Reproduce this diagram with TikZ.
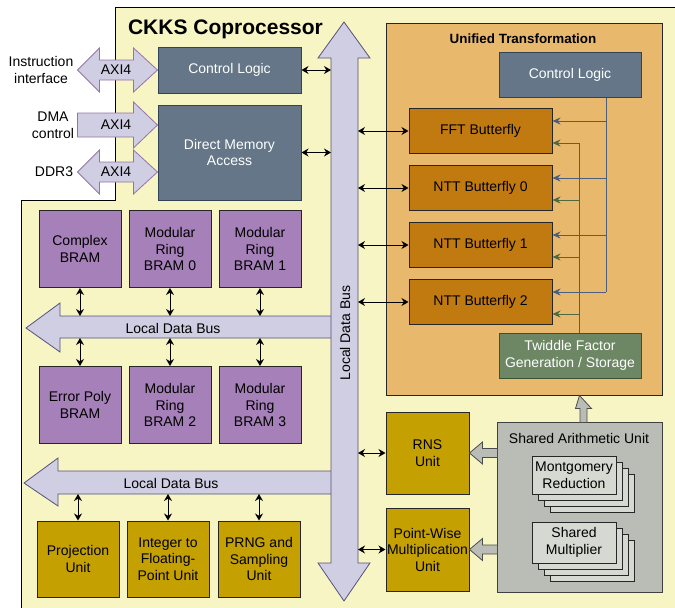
\documentclass[tikz,border=0pt]{standalone}
\usepackage{fontspec}
\setmainfont{Liberation Sans}
\usetikzlibrary{arrows.meta,positioning,calc}
\definecolor{yellowbg}{HTML}{F7F5C4}
\definecolor{busfill}{HTML}{D0CEE2}
\definecolor{busline}{HTML}{56517E}
\definecolor{axiline}{HTML}{9673A6}
\definecolor{slatefill}{HTML}{647687}
\definecolor{slateline}{HTML}{314354}
\definecolor{bramfill}{HTML}{A680B8}
\definecolor{goldfill}{HTML}{C4A000}
\definecolor{bflyfill}{HTML}{C07A10}
\definecolor{unifill}{HTML}{E8B86C}
\definecolor{twfill}{HTML}{6D8764}
\definecolor{twline}{HTML}{3A5431}
\definecolor{saufill}{HTML}{BABDB6}
\definecolor{stkfill}{HTML}{D6D9D2}
\definecolor{ctlline}{HTML}{4C5F7A}
\definecolor{twarrline}{HTML}{506840}
\tikzset{%
   box/.style={
      draw=black!85,
      line width=1pt,
      inner sep=0pt,
      align=center,
      font=\fontsize{14}{16.5}\selectfont
   },
   lbl/.style={
      inner sep=0pt,
      align=center,
      font=\fontsize{14}{16.5}\selectfont
   },
   slate/.style={
      box, draw=slateline, fill=slatefill, text=white
   },
   bram/.style={
      box, fill=bramfill, minimum width=82, minimum height=77
   },
   gold/.style={
      box, fill=goldfill, minimum width=82, minimum height=76
   },
   bfly/.style={
      box, fill=bflyfill, minimum width=143, minimum height=45
   },
   stk/.style={
      box, fill=stkfill, minimum width=84
   },
   frame/.style={
      draw=black, line width=1pt, fill=yellowbg
   },
   bus/.style={
      draw=busline, fill=busfill, line width=0.8pt
   },
   axi/.style={
      draw=axiline, fill=busfill, line width=0.8pt
   },
   blk/.style={
      draw=black!70, fill=saufill, line width=0.8pt
   },
   bi/.style={
      {Stealth[length=7pt,width=8pt]}-{Stealth[length=7pt,width=8pt]},
      line width=1pt
   },
   ctlarr/.style={
      -{Stealth[length=8pt,width=7pt]}, draw=ctlline, line width=1pt
   },
   twarr/.style={
      -{Stealth[length=8pt,width=7pt]}, draw=twarrline, line width=1pt
   },
}

\begin{document}
\begin{tikzpicture}[x=1pt, y=-1pt]
   \useasboundingbox (0,0) rectangle (675,608);
   % coprocessor frame
   \draw[frame] (115,7) -- (690,7) -- (690,620) -- (21,620) -- (21,200) -- (115,200) -- cycle;
   \node[anchor=base, inner sep=0pt, font=\bfseries\fontsize{21}{24}\selectfont] (title) at (225.5,34) {CKKS Coprocessor};

   % data buses
   \draw[bus] (26,328) -- (60,303) -- (60,316) -- (332,316) -- (332,338) -- (60,338) -- (60,352) -- cycle;
   \node[lbl] (lbus1) at (173,328) {Local Data Bus};
   \draw[bus] (24,483) -- (58,458) -- (58,471) -- (332,471) -- (332,494) -- (58,494) -- (58,506) -- cycle;
   \node[lbl] (lbus2) at (171,483) {Local Data Bus};
   \draw[bus] (344,22) -- (370,58) -- (358,58) -- (358,563) -- (370,563) -- (344,601) -- (318,563) -- (331,563) -- (331,58) -- (318,58) -- cycle;
   \node[lbl, rotate=90] (vbus) at (345,333) {Local Data Bus};
   \coordinate (bw) at (331,0);
   \coordinate (be) at (358,0);
   \coordinate (ubt) at (0,316);
   \coordinate (ubb) at (0,338);
   \coordinate (lbb) at (0,494);

   % host side
   \node[slate, minimum width=143, minimum height=46] (ctl) at (229.5,70) {Control Logic};
   \node[slate, minimum width=143, minimum height=95] (dma) at (229.5,152.5) {Direct Memory\\Access};
   \draw[axi] (ctl.west) -- ++(-24,-22) -- ++(0,12) -- ++(-34,0) -- ++(0,-12) -- ++(-22,22)
      -- ++(22,22) -- ++(0,-12) -- ++(34,0) -- ++(0,12) -- cycle;
   \draw[axi] ([yshift=27.5pt]dma.west) -- ++(-24,-23) -- ++(0,11) -- ++(-56,0) -- ++(0,24)
      -- ++(56,0) -- ++(0,11) -- cycle;
   \draw[axi] ([yshift=-19.5pt]dma.west) -- ++(-24,-22) -- ++(0,12) -- ++(-34,0) -- ++(0,-12) -- ++(-22,22)
      -- ++(22,22) -- ++(0,-12) -- ++(34,0) -- ++(0,12) -- cycle;
   \node[lbl] (axi1) at (116,70) {AXI4};
   \node[lbl] (axi2) at (116,125) {AXI4};
   \node[lbl] (axi3) at (116,172) {AXI4};
   \node[lbl] (ii) at (41,70) {Instruction\\interface};
   \node[lbl] (dmac) at (53,125) {DMA\\control};
   \node[lbl] (ddr) at (54,172) {DDR3};
   \draw[bi] (ctl.east) -- (ctl.east -| bw);
   \draw[bi] (dma.east) -- (dma.east -| bw);

   % memories
   \node[bram] (cbram) at (80,249) {Complex\\BRAM};
   \node[bram, right=7pt of cbram] (mr0) {Modular\\Ring\\BRAM 0};
   \node[bram, right=7pt of mr0] (mr1) {Modular\\Ring\\BRAM 1};
   \node[bram, below=78pt of cbram] (epbram) {Error Poly\\BRAM};
   \node[bram, right=7pt of epbram] (mr2) {Modular\\Ring\\BRAM 2};
   \node[bram, right=7pt of mr2] (mr3) {Modular\\Ring\\BRAM 3};
   \foreach \b in {cbram,mr0,mr1}
      \draw[bi] (\b.south) -- (\b.south |- ubt);
   \foreach \b in {epbram,mr2,mr3}
      \draw[bi] (\b.north) -- (\b.north |- ubb);

   % misc units
   \node[gold] (proj) at (78,559) {Projection\\Unit};
   \node[gold, right=7pt of proj] (i2f) {Integer to\\Floating-\\Point Unit};
   \node[gold, right=8pt of i2f] (prng) {PRNG and\\Sampling\\Unit};
   \foreach \b in {proj,i2f,prng}
      \draw[bi] (\b.north) -- (\b.north |- lbb);

   % unified transformation
   \node[box, fill=unifill, minimum width=276, minimum height=372] (uni) at (524,209) {};
   \node[anchor=base, inner sep=0pt, font=\bfseries\fontsize{13.4}{16}\selectfont] (unit) at (523,43) {Unified Transformation};
   \node[slate, minimum width=142, minimum height=45] (uctl) at (570,74.5) {Control Logic};
   \node[bfly] (fft) at (480.5,131) {FFT Butterfly};
   \node[bfly, below=11pt of fft] (ntt0) {NTT Butterfly 0};
   \node[bfly, below=11pt of ntt0] (ntt1) {NTT Butterfly 1};
   \node[bfly, below=11pt of ntt1] (ntt2) {NTT Butterfly 2};
   \node[box, draw=twline, fill=twfill, text=white, minimum width=142, minimum height=45] (tw) at (570,355.5) {Twiddle Factor\\Generation / Storage};
   \coordinate (cx) at ($(uctl.south)+(36,0)$);
   \coordinate (tx) at ($(tw.north)+(9,0)$);
   \foreach \b in {fft,ntt0,ntt1,ntt2} {
      \coordinate (\b-c) at ([yshift=10pt]\b.east);
      \coordinate (\b-t) at ([yshift=-12pt]\b.east);
      \draw[ctlarr] (cx |- \b-c) -- (\b-c);
      \draw[twarr] (tx |- \b-t) -- (\b-t);
      \draw[bi] (be |- \b.west) -- (\b.west);
   }
   \draw[ctlline, line width=1pt] (cx) -- (cx |- ntt2-c);
   \draw[twarrline, line width=1pt] (tx) -- (tx |- fft-t);

   % rns, point-wise and shared arithmetic
   \node[box, fill=goldfill, minimum width=83, minimum height=82] (rns) at (427.5,453) {RNS\\Unit};
   \node[box, fill=goldfill, minimum width=83, minimum height=83] (pwm) at (427.5,549.5) {Point-Wise\\Multiplication\\Unit};
   \draw[bi] (be |- rns.west) -- (rns.west);
   \draw[bi] (be |- pwm.west) -- (pwm.west);
   \node[box, draw=black!75, fill=saufill, minimum width=165, minimum height=170] (sau) at (579.5,507) {};
   \node[anchor=base, lbl] (saut) at (579,443) {Shared Arithmetic Unit};
   \foreach \k in {3,2,1}
      \node[stk, minimum height=38] at (574+6*\k,475+6*\k) {};
   \node[stk, minimum height=38] (mont) at (574,475) {Montgomery\\Reduction};
   \foreach \k in {3,2,1}
      \node[stk, minimum height=41] at (574+6*\k,542.5+6*\k) {};
   \node[stk, minimum height=41] (smul) at (574,542.5) {Shared\\Multiplier};
   \draw[blk] (rns.east) -- ++(13,-11) -- ++(0,6.5) -- ++(15,0) -- ++(0,9) -- ++(-15,0) -- ++(0,6.5) -- cycle;
   \draw[blk] (pwm.east) -- ++(13,-11) -- ++(0,6.5) -- ++(15,0) -- ++(0,9) -- ++(-15,0) -- ++(0,6.5) -- cycle;
   \draw[blk] (sau.north |- uni.south) -- ++(12,13) -- ++(-4.5,0) -- ++(0,14) -- ++(-7,0) -- ++(0,-14) -- ++(-4.5,0) -- cycle;
\end{tikzpicture}
\end{document}
